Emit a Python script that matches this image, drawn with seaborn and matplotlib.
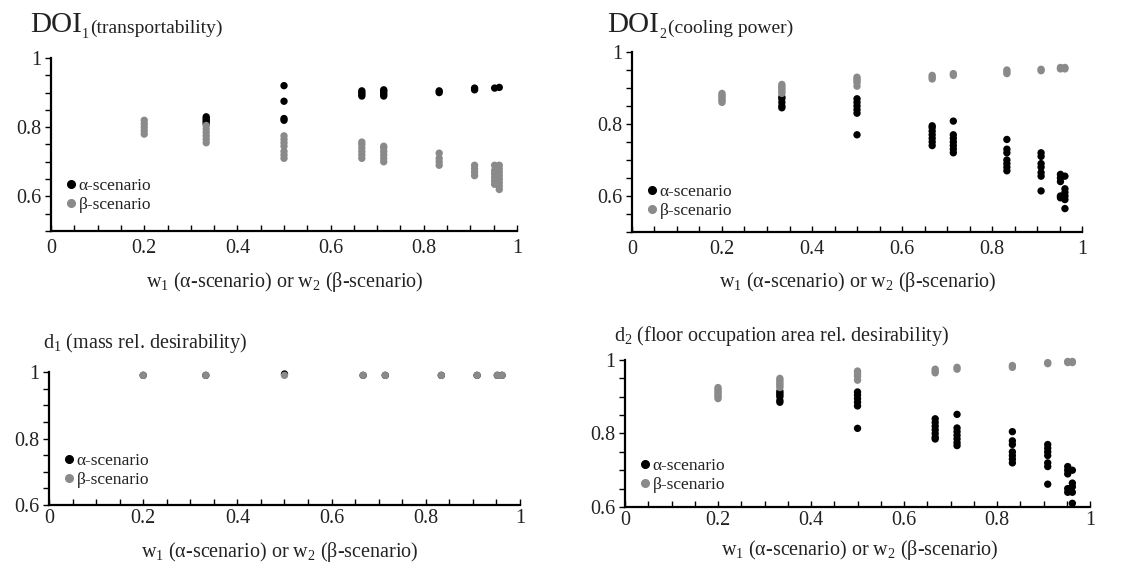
import numpy as np
import pandas as pd
import matplotlib
matplotlib.use("Agg")
import matplotlib.pyplot as plt
from matplotlib.ticker import MultipleLocator, FuncFormatter
from matplotlib.lines import Line2D
import seaborn as sns

sns.set_theme(style="white")
plt.rcParams['font.family'] = ['Liberation Serif', 'DejaVu Serif']
plt.rcParams['mathtext.fontset'] = 'custom'
plt.rcParams['mathtext.rm'] = 'Liberation Serif'
plt.rcParams['mathtext.it'] = 'Liberation Serif:italic'

# weight values (columns)
W = [0.2, 0.333, 0.5, 0.667, 0.714, 0.833, 0.909, 0.952, 0.962]

# ---- DOI1 (transportability) ----
doi1_alpha = [
    [],
    [0.81, 0.815, 0.82, 0.825, 0.83],
    [0.92, 0.875, 0.825, 0.82],
    [0.89, 0.895, 0.9, 0.905],
    [0.89, 0.895, 0.9, 0.905, 0.908],
    [0.9, 0.905],
    [0.908, 0.913],
    [0.913],
    [0.915],
]
doi1_beta = [
    [0.78, 0.79, 0.8, 0.81, 0.82],
    [0.755, 0.765, 0.775, 0.785, 0.795, 0.805],
    [0.71, 0.72, 0.73, 0.745, 0.755, 0.765, 0.775],
    [0.71, 0.72, 0.73, 0.74, 0.75, 0.757],
    [0.70, 0.71, 0.72, 0.73, 0.74, 0.745],
    [0.69, 0.70, 0.71, 0.725],
    [0.66, 0.67, 0.68, 0.69],
    [0.635, 0.645, 0.655, 0.665, 0.675, 0.69],
    [0.62, 0.63, 0.64, 0.65, 0.66, 0.67, 0.68, 0.69],
]

# ---- DOI2 (cooling power) ----
doi2_alpha = [
    [],
    [0.845, 0.85, 0.86, 0.87, 0.875],
    [0.83, 0.84, 0.85, 0.86, 0.87, 0.77],
    [0.74, 0.75, 0.76, 0.77, 0.78, 0.79, 0.795],
    [0.808, 0.72, 0.73, 0.74, 0.75, 0.76, 0.77],
    [0.757, 0.73, 0.72, 0.70, 0.69, 0.68, 0.67],
    [0.72, 0.71, 0.69, 0.68, 0.665, 0.655, 0.614],
    [0.66, 0.65, 0.64, 0.60, 0.595],
    [0.655, 0.62, 0.61, 0.60, 0.59, 0.565],
]
doi2_beta = [
    [0.86, 0.865, 0.87, 0.875, 0.88, 0.885],
    [0.885, 0.89, 0.895, 0.9, 0.905, 0.91],
    [0.905, 0.915, 0.92, 0.925, 0.93],
    [0.925, 0.93, 0.935],
    [0.935, 0.94],
    [0.94, 0.945, 0.95],
    [0.948, 0.952],
    [0.953, 0.957],
    [0.953, 0.957],
]

# ---- d1 (mass rel. desirability) ----
d1_alpha = [[0.99], [0.99], [0.994], [0.99], [0.99], [0.99], [0.99], [0.99], [0.99]]
d1_beta = [[0.99], [0.99], [0.99], [0.99], [0.99], [0.99], [0.99], [0.99], [0.99]]

# ---- d2 (floor occupation area rel. desirability) ----
d2_alpha = [
    [],
    [0.885, 0.89, 0.9, 0.905, 0.91, 0.915],
    [0.875, 0.885, 0.895, 0.905, 0.913, 0.814],
    [0.785, 0.79, 0.8, 0.81, 0.82, 0.83, 0.84],
    [0.852, 0.767, 0.775, 0.785, 0.795, 0.805, 0.815],
    [0.805, 0.78, 0.77, 0.75, 0.74, 0.73, 0.72],
    [0.77, 0.76, 0.75, 0.74, 0.72, 0.71, 0.662],
    [0.71, 0.70, 0.69, 0.65, 0.64],
    [0.70, 0.665, 0.655, 0.64, 0.61],
]
d2_beta = [
    [0.895, 0.9, 0.905, 0.91, 0.915, 0.92, 0.925],
    [0.925, 0.93, 0.935, 0.94, 0.945, 0.95],
    [0.945, 0.955, 0.96, 0.965, 0.97],
    [0.965, 0.97, 0.975],
    [0.975, 0.98],
    [0.98, 0.985],
    [0.99, 0.993],
    [0.993, 0.996],
    [0.993, 0.996],
]

LABELS = ["\u03b1-scenario", "\u03b2-scenario"]
COLORS = {LABELS[0]: "#000000", LABELS[1]: "#8a8a8a"}
TXT = "#222222"


def make_df(alpha, beta):
    rows = []
    for name, groups in ((LABELS[0], alpha), (LABELS[1], beta)):
        for w, vals in zip(W, groups):
            for v in vals:
                rows.append((w, v, name))
    return pd.DataFrame(rows, columns=["w", "value", "scenario"])


fig = plt.figure(figsize=(11.42, 5.64), dpi=100)

# rect, alpha, beta, ymin, legend beta-row height above axis bottom (px)
panels = [
    ([0.0447, 0.5904, 0.4080, 0.3068], doi1_alpha, doi1_beta, 0.5, 28),
    ([0.5534, 0.5887, 0.3941, 0.3191], doi2_alpha, doi2_beta, 0.5, 23),
    ([0.0429, 0.1046, 0.4124, 0.2358], d1_alpha, d1_beta, 0.6, 27),
    ([0.5473, 0.1011, 0.4072, 0.2606], d2_alpha, d2_beta, 0.6, 24),
]

axes = []
for rect, a, b, ymin, leg_px in panels:
    ax = fig.add_axes(rect)
    df = make_df(a, b)
    sns.scatterplot(data=df, x="w", y="value", hue="scenario", palette=COLORS,
                    s=28, linewidth=0, legend=False, ax=ax, clip_on=False)
    ax.set_xlim(0, 1)
    ax.set_ylim(ymin, 1)
    ax.set_xlabel("")
    ax.set_ylabel("")
    for s in ("top", "right"):
        ax.spines[s].set_visible(False)
    for s in ("left", "bottom"):
        ax.spines[s].set_color("black")
        ax.spines[s].set_linewidth(1.6)
    ax.xaxis.set_major_locator(MultipleLocator(0.2))
    ax.xaxis.set_minor_locator(MultipleLocator(0.05))
    ax.yaxis.set_major_locator(MultipleLocator(0.2))
    ax.yaxis.set_minor_locator(MultipleLocator(0.05))
    fmt = FuncFormatter(lambda v, p: f"{v:g}")
    ax.xaxis.set_major_formatter(fmt)
    ax.yaxis.set_major_formatter(fmt)
    ax.tick_params(axis="x", which="both", direction="in", length=4, width=1,
                   color="black", labelsize=14.5, labelcolor=TXT, pad=6, bottom=True)
    ax.tick_params(axis="y", which="both", direction="out", length=4, width=1,
                   color="black", labelsize=14.5, labelcolor=TXT, pad=3, left=True)
    handles = [Line2D([], [], marker="o", linestyle="", color=COLORS[l],
                      markersize=5.5, label=l) for l in LABELS]
    h_px = rect[3] * 564
    ax.legend(handles=handles, loc="lower left",
              bbox_to_anchor=(0.0, (leg_px - 22) / h_px),
              frameon=False, fontsize=12.5, handletextpad=0.0, labelspacing=0.15,
              borderaxespad=0.3, handlelength=0.9, labelcolor=TXT)
    axes.append(ax)

# bottom panels: tighter tick label pads
for ax in axes[2:]:
    ax.tick_params(axis="x", which="both", pad=3)


def big_title(ax, x, y, sub, rest):
    t = fig.text(x, y, "DOI", fontsize=21, color=TXT, va="baseline", ha="left")
    ax.annotate(sub, xy=(1, 0), xycoords=t, xytext=(0, 0),
                textcoords="offset points", fontsize=10, color=TXT,
                va="baseline", ha="left", annotation_clip=False)
    ax.annotate(rest, xy=(1, 0), xycoords=t, xytext=(6, 4),
                textcoords="offset points", fontsize=14, color=TXT,
                va="baseline", ha="left", annotation_clip=False)
    return t


# titles
big_title(axes[0], 0.026, 0.943, "1", "(transportability)")
big_title(axes[1], 0.532, 0.943, "2", "(cooling power)")
fig.text(0.038, 0.392, "d$_1$ (mass rel. desirability)", fontsize=14.5, color=TXT,
         va="center", ha="left")
fig.text(0.538, 0.405, "d$_2$ (floor occupation area rel. desirability)", fontsize=14.5,
         color=TXT, va="center", ha="left")

# x-axis labels
xl = "w$_1$ (\u03b1-scenario) or w$_2$ (\u03b2-scenario)"
fig.text(0.249, 0.500, xl, fontsize=14.5, color=TXT, ha="center", va="center")
fig.text(0.751, 0.500, xl, fontsize=14.5, color=TXT, ha="center", va="center")
fig.text(0.245, 0.022, xl, fontsize=14.5, color=TXT, ha="center", va="center")
fig.text(0.753, 0.024, xl, fontsize=14.5, color=TXT, ha="center", va="center")

fig.savefig("out.png", dpi=100, facecolor="white")
